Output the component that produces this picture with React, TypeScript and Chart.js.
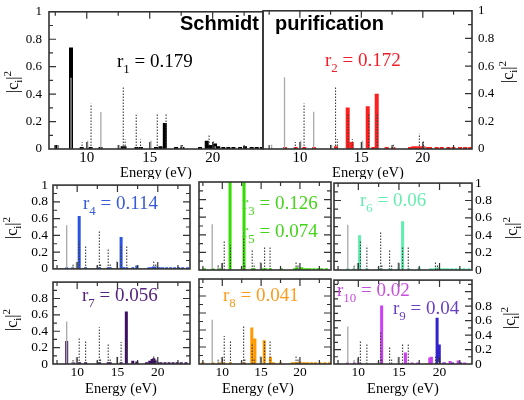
import React, { useEffect, useRef } from "react";
import { Chart, registerables } from "chart.js";
Chart.register(...registerables);

const SERIF = "'Liberation Serif', 'Times New Roman', Times, serif";
const SANS = "'Liberation Sans', Arial, Helvetica, sans-serif";
Chart.defaults.font.family = SERIF;

// ---------- data (energies in eV, weights |c_i|^2) ----------
const X_TICKS = [10, 15, 20];

// reference spectra, top panel
const TOP_SOLID_E = [7.7, 8.75, 10.07, 11.12, 12.58, 15.1, 17.6, 20.2];
const TOP_SOLID_V = [0.03, 0.52, 0.06, 0.27, 0.03, 0.06, 0.02, 0.02];
const TOP_DOT_E = [9.63, 10.34, 12.9, 13.05, 13.93, 14.27, 15.6, 16.3, 17.6, 19.72, 20.05, 22.1];
const TOP_DOT_V = [0.05, 0.33, 0.45, 0.07, 0.25, 0.07, 0.26, 0.26, 0.03, 0.11, 0.06, 0.02];

// reference spectra, lower panels
const SUB_SOLID_E = [8.7, 9.45, 9.9, 12.45, 14.9, 17.5, 19.9];
const SUB_SOLID_V = [0.52, 0.05, 0.08, 0.04, 0.09, 0.02, 0.03];
const SUB_DOT_E = [9.5, 10.25, 11.05, 12.75, 12.9, 13.85, 14.1, 15.45, 16.15, 19.5, 19.75];
const SUB_DOT_V = [0.05, 0.33, 0.28, 0.45, 0.07, 0.24, 0.07, 0.27, 0.27, 0.1, 0.06];

// Schmidt (r1)
const SCHMIDT_E = [7.6, 8.75, 9.6, 10.3, 11.1, 12.85, 13.0, 13.95, 14.3, 15.5, 15.85, 16.2, 17.1, 17.6, 19.0, 19.53, 19.8, 20.19, 20.45, 20.85, 21.25, 21.65, 22.18, 22.57, 23.1, 23.5, 23.9];
const SCHMIDT_V = [0.03, 0.74, 0.015, 0.015, 0.015, 0.02, 0.02, 0.015, 0.015, 0.015, 0.02, 0.19, 0.015, 0.015, 0.015, 0.06, 0.03, 0.04, 0.02, 0.015, 0.015, 0.015, 0.015, 0.02, 0.015, 0.015, 0.015];

// purification (r2)
const PURIF_E = [8.79, 9.66, 10.36, 11.15, 12.94, 13.89, 14.22, 15.52, 15.97, 16.25, 17.06, 17.6, 18.96, 19.23, 19.5, 19.77, 20.04, 20.3, 20.59, 21.13, 21.54, 22.08, 22.49, 23.03, 23.44, 23.85];
const PURIF_V = [0.015, 0.015, 0.015, 0.015, 0.02, 0.30, 0.05, 0.31, 0.015, 0.40, 0.015, 0.015, 0.015, 0.02, 0.02, 0.02, 0.02, 0.015, 0.015, 0.015, 0.015, 0.015, 0.015, 0.015, 0.015, 0.015];

// r4
const R4_E = [8.7, 9.45, 10.25, 11.05, 12.75, 13.85, 14.1, 15.45, 15.75, 16.15, 16.9, 17.4, 18.9, 19.2, 19.45, 19.7, 19.95, 20.2, 20.6, 21.1, 21.6, 22.1, 22.6, 23.1, 23.7];
const R4_V = [0.02, 0.02, 0.63, 0.02, 0.02, 0.02, 0.02, 0.38, 0.02, 0.02, 0.02, 0.04, 0.02, 0.02, 0.03, 0.03, 0.02, 0.02, 0.02, 0.02, 0.02, 0.02, 0.02, 0.02, 0.02];

// r3 / r5
const R35_E = [7.7, 8.8, 9.7, 11.0, 12.8, 13.9, 14.1, 15.3, 15.6, 16.2, 17.6, 19.3, 19.6, 19.9, 20.2, 20.5, 20.9, 21.3, 21.8, 22.3, 22.8, 23.4];
const R35_V = [0.02, 0.02, 0.02, 1.0, 1.0, 0.02, 0.02, 0.02, 0.02, 0.02, 0.02, 0.02, 0.03, 0.02, 0.03, 0.02, 0.02, 0.02, 0.02, 0.02, 0.02, 0.02];

// r6
const R6_E = [8.7, 9.45, 10.15, 11.05, 12.75, 13.85, 14.9, 15.45, 16.2, 17.5, 18.9, 19.3, 19.6, 19.9, 20.2, 20.6, 21.0, 21.5, 22.0, 22.5, 23.0, 23.6];
const R6_V = [0.02, 0.02, 0.40, 0.02, 0.02, 0.02, 0.02, 0.56, 0.02, 0.03, 0.02, 0.02, 0.03, 0.03, 0.02, 0.02, 0.02, 0.02, 0.02, 0.02, 0.02, 0.02];

// r7
const R7_E = [8.7, 9.5, 10.3, 11.05, 12.75, 13.85, 14.1, 15.45, 16.1, 16.9, 17.4, 18.6, 19.0, 19.3, 19.5, 19.75, 20.0, 20.4, 20.9, 21.4, 21.9, 22.4, 22.9, 23.5];
const R7_V = [0.28, 0.02, 0.02, 0.02, 0.02, 0.02, 0.02, 0.02, 0.64, 0.04, 0.03, 0.02, 0.04, 0.06, 0.07, 0.04, 0.02, 0.02, 0.02, 0.02, 0.02, 0.02, 0.02, 0.02];

// r8
const R8_E = [7.5, 8.8, 9.7, 10.2, 11.05, 12.8, 13.8, 14.2, 15.4, 16.2, 16.6, 17.5, 19.0, 19.3, 19.6, 19.9, 20.2, 20.6, 21.0, 21.5, 22.0, 22.6, 23.2, 23.8];
const R8_V = [0.02, 0.02, 0.02, 0.02, 0.02, 0.02, 0.43, 0.30, 0.28, 0.085, 0.02, 0.02, 0.02, 0.02, 0.02, 0.03, 0.02, 0.02, 0.02, 0.02, 0.02, 0.02, 0.02, 0.02];

// r10
const R10_E = [8.65, 9.5, 10.2, 12.87, 15.8, 16.6, 17.3, 18.8, 19.0, 20.5, 21.3, 22.3, 23.1];
const R10_V = [0.02, 0.02, 0.02, 0.81, 0.16, 0.02, 0.02, 0.09, 0.1, 0.02, 0.04, 0.05, 0.02];

// r9
const R9_E = [19.7, 19.97, 20.6, 21.6, 22.6];
const R9_V = [0.64, 0.27, 0.02, 0.02, 0.02];

// ---------- helpers ----------
type Series = { E: number[]; V: number[]; color: string; width: number; dash?: number[] };
type PanelCfg = {
  l: number; r: number; t: number; b: number;
  yMax: number; ySide: "left" | "right" | "none"; xLabels: boolean;
  xFont: number; yFont: number; yPad: number;
  hideTop?: boolean; skipLeft?: boolean; skipRight?: boolean;
  series: Series[];
};

function spikes(E: number[], V: number[]) {
  const out: { x: number; y: number | null }[] = [];
  E.forEach((e, i) => {
    out.push({ x: e, y: 0 }, { x: e, y: V[i] }, { x: e, y: null });
  });
  return out;
}

const GRAY = "#a9a9a9";
const DOTC = "#3c3c3c";
const FRAME = "#333";

const frameTicks = {
  id: "frameTicks",
  afterDatasetsDraw(chart: any, _a: any, opts: any) {
    const { ctx, chartArea, scales } = chart;
    const { left, right, top, bottom } = chartArea;
    const x = scales.x, y = scales.y;
    ctx.save();
    ctx.strokeStyle = FRAME;
    ctx.lineWidth = 1.6;
    ctx.strokeRect(left, top, right - left, bottom - top);
    ctx.lineWidth = 1.2;
    ctx.beginPath();
    for (let v = 7.5; v < 24; v += 2.5) {
      const px = x.getPixelForValue(v);
      const L = v % 5 === 0 ? 7 : 4;
      ctx.moveTo(px, bottom); ctx.lineTo(px, bottom - L);
      ctx.moveTo(px, top); ctx.lineTo(px, top + L);
    }
    const yMax = y.max;
    for (let k = 1; k * 0.1 < yMax - 0.02; k++) {
      const py = y.getPixelForValue(k * 0.1);
      const L = k % 2 === 0 ? 7 : 4;
      if (!opts.skipLeft) { ctx.moveTo(left, py); ctx.lineTo(left + L, py); }
      if (!opts.skipRight) { ctx.moveTo(right, py); ctx.lineTo(right - L, py); }
    }
    ctx.stroke();
    ctx.restore();
  },
};

function Panel({ cfg }: { cfg: PanelCfg }) {
  const ref = useRef<HTMLCanvasElement>(null);
  const padL = cfg.ySide === "left" ? 48 : 6;
  const padR = cfg.ySide === "right" ? 48 : 6;
  const padT = 10;
  const padB = cfg.xLabels ? 22 : 6;
  const W = cfg.r - cfg.l + padL + padR;
  const H = cfg.b - cfg.t + padT + padB;
  useEffect(() => {
    const datasets = cfg.series.map((s) => ({
      data: spikes(s.E, s.V),
      borderColor: s.color,
      borderWidth: s.width,
      borderDash: s.dash ?? [],
      borderCapStyle: "butt",
      pointRadius: 0,
      spanGaps: false,
      tension: 0,
      fill: false,
    }));
    const chart = new Chart(ref.current as HTMLCanvasElement, {
      type: "line",
      data: { datasets } as any,
      options: {
        animation: false,
        responsive: false,
        devicePixelRatio: 1,
        events: [],
        layout: {
          padding: {
            left: cfg.ySide === "left" ? 0 : padL,
            right: cfg.ySide === "right" ? 0 : padR,
            top: padT,
            bottom: cfg.xLabels ? 0 : padB,
          },
        },
        plugins: {
          legend: { display: false },
          tooltip: { enabled: false },
          frameTicks: { skipLeft: cfg.skipLeft, skipRight: cfg.skipRight },
        } as any,
        scales: {
          x: {
            type: "linear",
            min: 7,
            max: 24,
            display: cfg.xLabels,
            position: "bottom",
            grid: { display: false, drawTicks: false },
            border: { display: false },
            ticks: {
              font: { family: SERIF, size: cfg.xFont }, color: "#000", padding: 0,
              maxRotation: 0, autoSkip: false,
              callback: (v: any) => String(Math.round(Number(v))),
            },
            afterBuildTicks: (s: any) => { s.ticks = X_TICKS.map((v) => ({ value: v })); },
            afterFit: (s: any) => { s.height = padB; },
          },
          y: {
            type: "linear",
            min: 0,
            max: cfg.yMax,
            display: cfg.ySide !== "none",
            position: cfg.ySide === "right" ? "right" : "left",
            grid: { display: false, drawTicks: false },
            border: { display: false },
            ticks: {
              stepSize: 0.2, autoSkip: false,
              font: { family: SERIF, size: cfg.yFont }, color: "#000", padding: cfg.yPad,
              callback: (v: any) => String(Math.round(Number(v) * 10) / 10),
            },
            afterBuildTicks: (s: any) => {
              s.ticks = s.ticks.filter((t: any) => {
                const k = t.value / 0.2;
                if (Math.abs(k - Math.round(k)) > 1e-6) return false;
                if (cfg.hideTop && t.value > 0.999) return false;
                return true;
              });
            },
            afterFit: (s: any) => { s.width = cfg.ySide === "left" ? padL : padR; },
          },
        } as any,
      },
      plugins: [frameTicks as any],
    });
    return () => chart.destroy();
  }, []);
  return (
    <canvas
      ref={ref}
      width={W}
      height={H}
      style={{ position: "absolute", left: cfg.l - padL, top: cfg.t - padT, width: W, height: H }}
    />
  );
}

function Ann({ x, y, color, sub, value, size = 19 }: { x: number; y: number; color: string; sub: string; value: string; size?: number }) {
  return (
    <div
      style={{
        position: "absolute", left: x, top: y, transform: "translateY(-50%)",
        color, fontFamily: SERIF, fontSize: size, lineHeight: `${size}px`, whiteSpace: "nowrap",
      }}
    >
      r<span style={{ fontSize: size * 0.68, position: "relative", top: size * 0.32 }}>{sub}</span> = {value}
    </div>
  );
}

function YTitle({ x, y }: { x: number; y: number }) {
  return (
    <div
      style={{
        position: "absolute", left: x, top: y, transform: "translate(-50%, -50%) rotate(-90deg)",
        fontFamily: SERIF, fontSize: 16, lineHeight: "16px", whiteSpace: "nowrap", color: "#000",
      }}
    >
      |c<span style={{ fontSize: 11, position: "relative", top: 4 }}>i</span>|
      <span style={{ fontSize: 11, position: "relative", top: -7 }}>2</span>
    </div>
  );
}

function XTitle({ cx, cy }: { cx: number; cy: number }) {
  return (
    <div
      style={{
        position: "absolute", left: cx, top: cy, transform: "translate(-50%, -50%)",
        fontFamily: SERIF, fontSize: 14.5, lineHeight: "15px", whiteSpace: "nowrap", color: "#000",
      }}
    >
      Energy (eV)
    </div>
  );
}

const bg = (solidE: number[], solidV: number[], dotE: number[], dotV: number[]): Series[] => [
  { E: solidE, V: solidV, color: GRAY, width: 1.3 },
  { E: dotE, V: dotV, color: DOTC, width: 1.1, dash: [1.5, 1.5] },
];

const C1 = { l: 53, r: 190 };
const C2 = { l: 193, r: 331 };
const C3 = { l: 334, r: 472 };
const ROW1 = { t: 182, b: 276 };
const ROW2 = { t: 279, b: 364 };

const TOP_PANELS: PanelCfg[] = [
  {
    l: 49, r: 263, t: 7, b: 149, yMax: 1, ySide: "left", xLabels: true, xFont: 15, yFont: 13, yPad: 7, skipRight: true,
    series: [...bg(TOP_SOLID_E, TOP_SOLID_V, TOP_DOT_E, TOP_DOT_V), { E: SCHMIDT_E, V: SCHMIDT_V, color: "#000", width: 4 }],
  },
  {
    l: 263, r: 472, t: 7, b: 149, yMax: 1, ySide: "right", xLabels: true, xFont: 15, yFont: 13, yPad: 6, skipLeft: true,
    series: [...bg(TOP_SOLID_E, TOP_SOLID_V, TOP_DOT_E, TOP_DOT_V), { E: PURIF_E, V: PURIF_V, color: "#ff1f1f", width: 4 }],
  },
];

const SUB_BG = bg(SUB_SOLID_E, SUB_SOLID_V, SUB_DOT_E, SUB_DOT_V);

const BOTTOM_PANELS: PanelCfg[] = [
  { ...C1, ...ROW1, yMax: 1, ySide: "left", xLabels: false, xFont: 13.5, yFont: 13.5, yPad: 5,
    series: [...SUB_BG, { E: R4_E, V: R4_V, color: "#2b55e0", width: 3 }] },
  { ...C2, ...ROW1, yMax: 1, ySide: "none", xLabels: false, xFont: 13.5, yFont: 13.5, yPad: 5,
    series: [...SUB_BG, { E: R35_E, V: R35_V, color: "#33dd00", width: 3 }] },
  { ...C3, ...ROW1, yMax: 1, ySide: "right", xLabels: false, xFont: 13.5, yFont: 13.5, yPad: 3,
    series: [...SUB_BG, { E: R6_E, V: R6_V, color: "#5ef0ae", width: 3 }] },
  { ...C1, ...ROW2, yMax: 1, ySide: "left", xLabels: true, xFont: 13.5, yFont: 13.5, yPad: 5, hideTop: true,
    series: [...SUB_BG, { E: R7_E, V: R7_V, color: "#3c0f63", width: 3 }] },
  { ...C2, ...ROW2, yMax: 1, ySide: "none", xLabels: true, xFont: 13.5, yFont: 13.5, yPad: 5,
    series: [...SUB_BG, { E: R8_E, V: R8_V, color: "#ff9a00", width: 3 }] },
  { ...C3, ...ROW2, yMax: 1.16, ySide: "right", xLabels: true, xFont: 13.5, yFont: 13.5, yPad: 3,
    series: [...SUB_BG, { E: R10_E, V: R10_V, color: "#cc3ff0", width: 3 }, { E: R9_E, V: R9_V, color: "#3322cc", width: 3 }] },
];

export default function App() {
  return (
    <div style={{ position: "fixed", left: 0, top: 0, width: 524, height: 400, background: "#fff", overflow: "hidden" }}>
      {TOP_PANELS.map((c, i) => <Panel key={"t" + i} cfg={c} />)}
      <XTitle cx={156} cy={172} />
      <XTitle cx={368} cy={172} />
      <div style={{ position: "absolute", left: 0, top: 179, width: 524, height: 221, background: "#fff" }} />
      {BOTTOM_PANELS.map((c, i) => <Panel key={"b" + i} cfg={c} />)}
      <XTitle cx={121} cy={388} />
      <XTitle cx={258} cy={388} />
      <XTitle cx={403} cy={388} />

      <div style={{ position: "absolute", left: 180, top: 23, transform: "translateY(-50%)", fontFamily: SANS, fontWeight: "bold", fontSize: 20, lineHeight: "20px", color: "#000" }}>Schmidt</div>
      <div style={{ position: "absolute", left: 275, top: 23, transform: "translateY(-50%)", fontFamily: SANS, fontWeight: "bold", fontSize: 20, lineHeight: "20px", color: "#000" }}>purification</div>

      <Ann x={117} y={61} color="#000" sub="1" value="0.179" />
      <Ann x={325} y={60} color="#f0202a" sub="2" value="0.172" />
      <Ann x={83} y={203} color="#3a5bd6" sub="4" value="0.114" />
      <Ann x={242} y={203} color="#44d41a" sub="3" value="0.126" />
      <Ann x={242} y={231} color="#44d41a" sub="5" value="0.074" />
      <Ann x={360} y={200} color="#66eeb0" sub="6" value="0.06" />
      <Ann x={82} y={295} color="#55227f" sub="7" value="0.056" />
      <Ann x={223} y={295} color="#ff9a1a" sub="8" value="0.041" />
      <Ann x={337} y={290} color="#c84ee0" sub="10" value="0.02" />
      <Ann x={393} y={308} color="#6a40c0" sub="9" value="0.04" />

      <YTitle x={13} y={82} />
      <YTitle x={12} y={228} />
      <YTitle x={12} y={320} />
      <YTitle x={508} y={72} />
      <YTitle x={512} y={228} />
      <YTitle x={510} y={318} />
    </div>
  );
}
